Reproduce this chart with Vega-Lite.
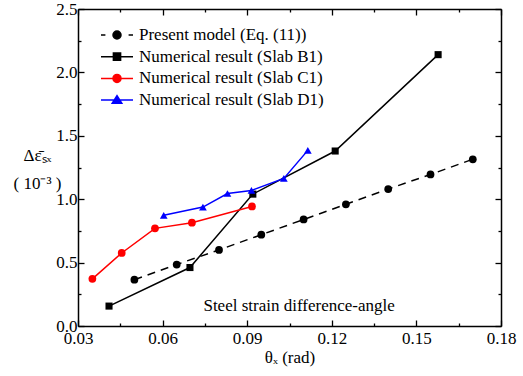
{
  "$schema": "https://vega.github.io/schema/vega-lite/v6.json",
  "width": 423,
  "height": 317,
  "autosize": "none",
  "padding": {"left": 78, "top": 9, "right": 22, "bottom": 50},
  "background": "white",
  "config": {
    "view": {"stroke": null},
    "font": "Liberation Serif",
    "axis": {
      "grid": false,
      "domainColor": "black",
      "domainWidth": 1.5,
      "tickColor": "black",
      "tickWidth": 1.3,
      "labelColor": "black",
      "labelFontSize": 17,
      "labelFont": "Liberation Serif",
      "titleFont": "Liberation Serif",
      "titleFontSize": 17,
      "titleFontWeight": "normal",
      "titleColor": "black"
    }
  },
  "datasets": {
    "main": [
      {"series": "Present model (Eq. (11))", "x": 0.05, "y": 0.365},
      {"series": "Present model (Eq. (11))", "x": 0.065, "y": 0.485},
      {"series": "Present model (Eq. (11))", "x": 0.08, "y": 0.60},
      {"series": "Present model (Eq. (11))", "x": 0.095, "y": 0.72},
      {"series": "Present model (Eq. (11))", "x": 0.11, "y": 0.84},
      {"series": "Present model (Eq. (11))", "x": 0.125, "y": 0.96},
      {"series": "Present model (Eq. (11))", "x": 0.14, "y": 1.08},
      {"series": "Present model (Eq. (11))", "x": 0.155, "y": 1.195},
      {"series": "Present model (Eq. (11))", "x": 0.17, "y": 1.315},
      {"series": "Numerical result (Slab B1)", "x": 0.041, "y": 0.157},
      {"series": "Numerical result (Slab B1)", "x": 0.0697, "y": 0.461},
      {"series": "Numerical result (Slab B1)", "x": 0.092, "y": 1.04},
      {"series": "Numerical result (Slab B1)", "x": 0.1212, "y": 1.38},
      {"series": "Numerical result (Slab B1)", "x": 0.1577, "y": 2.14},
      {"series": "Numerical result (Slab C1)", "x": 0.0351, "y": 0.372},
      {"series": "Numerical result (Slab C1)", "x": 0.0455, "y": 0.576},
      {"series": "Numerical result (Slab C1)", "x": 0.0573, "y": 0.77},
      {"series": "Numerical result (Slab C1)", "x": 0.0704, "y": 0.815},
      {"series": "Numerical result (Slab C1)", "x": 0.0917, "y": 0.943},
      {"series": "Numerical result (Slab D1)", "x": 0.0604, "y": 0.873},
      {"series": "Numerical result (Slab D1)", "x": 0.0743, "y": 0.938},
      {"series": "Numerical result (Slab D1)", "x": 0.083, "y": 1.045},
      {"series": "Numerical result (Slab D1)", "x": 0.0915, "y": 1.069},
      {"series": "Numerical result (Slab D1)", "x": 0.103, "y": 1.164},
      {"series": "Numerical result (Slab D1)", "x": 0.1115, "y": 1.385}
    ],
    "note": [
      {"x": 0.1084, "y": 0.161, "label": "Steel strain difference-angle"}
    ]
  },
  "layer": [
    {
      "data": {"name": "main"},
      "transform": [{"filter": "datum.series == 'Present model (Eq. (11))'"}],
      "mark": {"type": "line", "strokeWidth": 1.5, "color": "#000000", "strokeDash": [8, 6],
               "point": {"filled": true, "shape": "circle", "size": 60, "color": "#000000"}},
      "encoding": {
        "x": {
          "field": "x", "type": "quantitative",
          "scale": {"domain": [0.03, 0.18], "nice": false, "zero": false},
          "axis": {
            "orient": "bottom",
            "values": [0.03, 0.045, 0.06, 0.075, 0.09, 0.105, 0.12, 0.135, 0.15, 0.165, 0.18],
            "format": ".2f",
            "labelExpr": "round(datum.value*1000) % 30 == 0 ? datum.label : ''",
            "tickSize": {"condition": {"test": "round(datum.value*1000) % 30 == 0", "value": -6}, "value": -3},
            "labelPadding": 10,
            "labelFlush": false,
            "title": "θₓ (rad)",
            "titlePadding": 3
          }
        },
        "y": {
          "field": "y", "type": "quantitative",
          "scale": {"domain": [0, 2.5], "nice": false},
          "axis": {
            "orient": "left",
            "values": [0, 0.25, 0.5, 0.75, 1, 1.25, 1.5, 1.75, 2, 2.25, 2.5],
            "format": ".1f",
            "labelExpr": "round(datum.value*100) % 50 == 0 ? datum.label : ''",
            "tickSize": {"condition": {"test": "round(datum.value*100) % 50 == 0", "value": -6}, "value": -3},
            "labelPadding": 7,
            "labelFlush": false,
            "title": ["Δε̄ₛₓ", "( 10⁻³ )"],
            "titleAngle": 0,
            "titleAlign": "center",
            "titleBaseline": "middle",
            "titleX": -41,
            "titleY": 146,
            "titleLineHeight": 28
          }
        }
      }
    },
    {
      "data": {"name": "main"},
      "transform": [{"filter": "datum.series == 'Numerical result (Slab B1)'"}],
      "mark": {"type": "line", "strokeWidth": 1.5, "color": "#000000",
               "point": {"filled": true, "shape": "square", "size": 50, "color": "#000000"}},
      "encoding": {
        "x": {"field": "x", "type": "quantitative", "axis": null},
        "y": {"field": "y", "type": "quantitative", "axis": null}
      }
    },
    {
      "data": {"name": "main"},
      "transform": [{"filter": "datum.series == 'Numerical result (Slab C1)'"}],
      "mark": {"type": "line", "strokeWidth": 1.5, "color": "#ff0000",
               "point": {"filled": true, "shape": "circle", "size": 60, "color": "#ff0000"}},
      "encoding": {
        "x": {"field": "x", "type": "quantitative", "axis": null},
        "y": {"field": "y", "type": "quantitative", "axis": null}
      }
    },
    {
      "data": {"name": "main"},
      "transform": [{"filter": "datum.series == 'Numerical result (Slab D1)'"}],
      "mark": {"type": "line", "strokeWidth": 1.5, "color": "#0000ff",
               "point": {"filled": true, "shape": "triangle-up", "size": 60, "color": "#0000ff"}},
      "encoding": {
        "x": {"field": "x", "type": "quantitative", "axis": null},
        "y": {"field": "y", "type": "quantitative", "axis": null}
      }
    },
    {
      "data": {"name": "main"},
      "mark": {"type": "point", "filled": true, "opacity": 0, "strokeWidth": 1.5},
      "encoding": {
        "x": {"field": "x", "type": "quantitative", "axis": null},
        "y": {"field": "y", "type": "quantitative", "axis": null},
        "shape": {
          "field": "series", "type": "nominal",
          "scale": {
            "domain": ["Present model (Eq. (11))", "Numerical result (Slab B1)", "Numerical result (Slab C1)", "Numerical result (Slab D1)"],
            "range": [
              "M-2,0H-1.45M1.45,0H2M0.5,0A0.5,0.5,0,1,1,-0.5,0A0.5,0.5,0,1,1,0.5,0Z",
              "M-2,0H2M-0.45,-0.45H0.45V0.45H-0.45Z",
              "M-2,0H2M0.5,0A0.5,0.5,0,1,1,-0.5,0A0.5,0.5,0,1,1,0.5,0Z",
              "M-2,0H2M0,-0.55L0.6,0.4H-0.6Z"
            ]
          },
          "legend": {
            "title": null, "orient": "none", "legendX": 30, "legendY": 17,
            "labelFont": "Liberation Serif", "labelFontSize": 17, "labelColor": "black", "labelLimit": 400,
            "labelOffset": 13, "rowPadding": 4.7, "padding": 0,
            "symbolSize": 256, "symbolStrokeWidth": 1.5, "symbolOpacity": 1
          }
        },
        "fill": {
          "field": "series", "type": "nominal",
          "scale": {
            "domain": ["Present model (Eq. (11))", "Numerical result (Slab B1)", "Numerical result (Slab C1)", "Numerical result (Slab D1)"],
            "range": ["#000000", "#000000", "#ff0000", "#0000ff"]
          },
          "legend": {
            "title": null, "orient": "none", "legendX": 30, "legendY": 17,
            "labelFont": "Liberation Serif", "labelFontSize": 17, "labelColor": "black", "labelLimit": 400,
            "labelOffset": 13, "rowPadding": 4.7, "padding": 0,
            "symbolSize": 256, "symbolStrokeWidth": 1.5, "symbolOpacity": 1
          }
        },
        "stroke": {
          "field": "series", "type": "nominal",
          "scale": {
            "domain": ["Present model (Eq. (11))", "Numerical result (Slab B1)", "Numerical result (Slab C1)", "Numerical result (Slab D1)"],
            "range": ["#000000", "#000000", "#ff0000", "#0000ff"]
          },
          "legend": {
            "title": null, "orient": "none", "legendX": 30, "legendY": 17,
            "labelFont": "Liberation Serif", "labelFontSize": 17, "labelColor": "black", "labelLimit": 400,
            "labelOffset": 13, "rowPadding": 4.7, "padding": 0,
            "symbolSize": 256, "symbolStrokeWidth": 1.5, "symbolOpacity": 1
          }
        },
        "size": {"value": 256}
      }
    },
    {
      "data": {"name": "note"},
      "mark": {"type": "text", "fontSize": 17, "font": "Liberation Serif", "color": "black", "align": "center", "baseline": "middle"},
      "encoding": {
        "x": {
          "field": "x", "type": "quantitative",
          "axis": {
            "orient": "top",
            "values": [0.03, 0.045, 0.06, 0.075, 0.09, 0.105, 0.12, 0.135, 0.15, 0.165, 0.18],
            "labels": false,
            "tickSize": {"condition": {"test": "round(datum.value*1000) % 30 == 0", "value": -6}, "value": -3},
            "title": null
          }
        },
        "y": {
          "field": "y", "type": "quantitative",
          "axis": {
            "orient": "right",
            "values": [0, 0.25, 0.5, 0.75, 1, 1.25, 1.5, 1.75, 2, 2.25, 2.5],
            "labels": false,
            "tickSize": {"condition": {"test": "round(datum.value*100) % 50 == 0", "value": -6}, "value": -3},
            "title": null
          }
        },
        "text": {"field": "label", "type": "nominal"}
      }
    }
  ],
  "resolve": {
    "axis": {"x": "independent", "y": "independent"}
  }
}
